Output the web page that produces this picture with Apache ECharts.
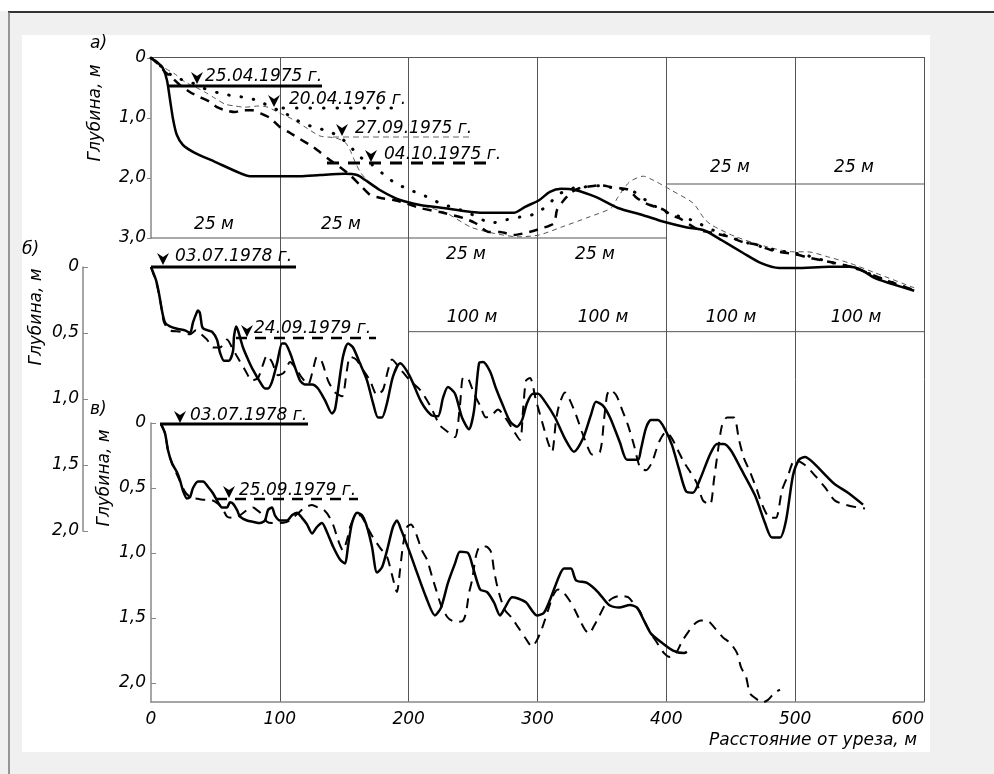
<!DOCTYPE html>
<html><head><meta charset="utf-8">
<script src="https://cdn.jsdelivr.net/npm/echarts@6/dist/echarts.min.js"></script>
<style>html,body{margin:0;padding:0;background:#f0f0f0}#c{width:994px;height:774px}</style>
</head><body><div id="c"></div>
<script>
// ---------- DATA (distance m, depth m) ----------
// Panel а) 0..150 m
const a_25041975 = [[0,0],[1.2,0.07],[2.3,0.17],[3.1,0.37],[3.7,0.70],[4.3,1.03],[5.0,1.28],[6.2,1.45],[8.5,1.58],[12.4,1.73],[17.3,1.92],[19.2,1.97],[23.1,1.97],[28.9,1.97],[32.8,1.95],[37.6,1.93],[40.0,1.95],[41.5,2.03],[44.4,2.20],[47.3,2.33],[49.7,2.40],[52.2,2.45],[56.7,2.50],[64.2,2.58],[70.4,2.58],[72.6,2.48],[75.3,2.37],[77.4,2.23],[79.6,2.18],[82.3,2.20],[86.4,2.32],[90.6,2.50],[95.5,2.62],[99.5,2.73],[103.8,2.82],[107.3,2.87],[110.6,3.03],[114.9,3.25],[118.4,3.42],[121.9,3.50],[125.2,3.50],[131.6,3.48],[135.6,3.48],[137.8,3.53],[140.5,3.67],[143.2,3.75],[148.1,3.88]];
const a_20041976 = [[0,0],[1.7,0.12],[3.7,0.27],[5.6,0.35],[7.6,0.40],[10.1,0.50],[13.0,0.58],[15.9,0.63],[19.2,0.67],[21.7,0.75],[23.5,0.83],[25.6,0.90],[27.9,1.02],[29.8,1.10],[32.4,1.17],[34.7,1.23],[36.7,1.32],[38.6,1.47],[40.6,1.65],[42.9,1.78],[45.0,1.93],[47.3,2.08],[50.3,2.20],[53.2,2.30],[56.1,2.42],[60.0,2.53],[62.9,2.63],[66.0,2.75],[68.7,2.70],[71.6,2.65],[74.5,2.60],[77.0,2.45],[79.0,2.28],[81.3,2.18],[84.0,2.15],[87.1,2.13],[90.0,2.17],[93.7,2.23],[96.8,2.42],[100.3,2.58],[104.8,2.70],[110.4,2.92],[115.3,3.07],[121.1,3.20],[126.7,3.28],[131.6,3.40],[136.6,3.50],[141.5,3.67],[148.1,3.87]];
const a_27091975 = [[0,0],[1.2,0.07],[2.7,0.17],[4.7,0.27],[6.6,0.40],[8.5,0.48],[10.5,0.57],[12.4,0.67],[14.4,0.77],[16.3,0.80],[18.2,0.82],[20.8,0.80],[22.7,0.82],[24.5,0.90],[27.0,1.00],[29.9,1.15],[32.8,1.30],[35.7,1.33],[37.6,1.40],[38.6,1.53],[39.6,1.73],[40.6,1.90],[41.9,2.03],[44.4,2.20],[48.3,2.37],[52.2,2.45],[57.2,2.58],[62.1,2.82],[66.4,2.92],[71.2,2.98],[75.3,2.95],[79.6,2.82],[85.0,2.65],[89.3,2.50],[90.6,2.32],[92.8,2.07],[95.5,1.97],[98.2,2.07],[100.9,2.20],[105.2,2.42],[107.3,2.67],[108.7,2.78],[113.5,2.98],[119.7,3.15],[124.6,3.23],[127.3,3.23],[131.6,3.32],[135.6,3.42],[140.5,3.58],[148.1,3.83]];
const a_04101975 = [[0,0],[1.4,0.10],[2.7,0.23],[4.1,0.33],[5.6,0.45],[7.6,0.57],[9.5,0.65],[11.4,0.73],[12.8,0.82],[14.4,0.87],[16.3,0.90],[17.9,0.87],[19.6,0.87],[21.2,0.92],[23.1,1.00],[25.0,1.15],[27.0,1.25],[28.9,1.35],[31.4,1.48],[32.8,1.57],[34.7,1.70],[36.7,1.82],[38.6,1.95],[40.6,2.12],[42.5,2.28],[44.4,2.33],[47.3,2.37],[49.7,2.43],[52.2,2.50],[56.7,2.58],[60.7,2.67],[62.9,2.75],[65.6,2.90],[67.7,2.90],[70.4,2.95],[73.4,2.90],[76.1,2.83],[78.2,2.75],[78.8,2.53],[80.1,2.37],[81.7,2.23],[83.1,2.17],[84.4,2.15],[87.1,2.12],[89.3,2.15],[91.0,2.17],[92.8,2.20],[94.1,2.32],[95.5,2.40],[96.8,2.45],[99.5,2.53],[100.9,2.62],[102.5,2.67],[104.6,2.78],[106.5,2.87],[109.3,2.92],[112.2,2.98],[114.9,3.07],[117.0,3.10],[120.3,3.20],[121.9,3.23],[125.5,3.28],[127.3,3.32],[130.0,3.37],[132.9,3.42],[136.6,3.50],[140.5,3.63],[143.4,3.73],[148.1,3.87]];
// Panel б) 0..600 m
const b_03071978 = [[0,0],[3.9,0.10],[6.2,0.20],[8.5,0.33],[10.9,0.42],[14.7,0.45],[21.0,0.47],[26.4,0.48],[30.3,0.50],[32.6,0.42],[35.7,0.34],[36.5,0.33],[38.0,0.35],[39.6,0.45],[41.1,0.47],[44.2,0.48],[47.3,0.49],[51.2,0.55],[53.6,0.65],[56.7,0.71],[60.5,0.71],[63.6,0.64],[64.4,0.53],[66.0,0.45],[67.5,0.48],[71.4,0.61],[75.3,0.70],[79.2,0.78],[84.6,0.87],[88.5,0.92],[90.8,0.92],[93.9,0.87],[97.8,0.73],[101.7,0.58],[104.0,0.58],[107.9,0.65],[111.8,0.76],[115.7,0.86],[119.5,0.89],[125.0,0.89],[129.6,0.92],[135.1,1.01],[140.5,1.11],[142.8,1.08],[145.2,0.93],[149.0,0.68],[152.9,0.58],[156.8,0.61],[162.2,0.73],[167.7,0.86],[172.3,1.03],[176.2,1.14],[179.3,1.14],[183.2,1.03],[187.8,0.83],[193.3,0.73],[201.0,0.83],[209.6,1.02],[217.3,1.12],[222.8,1.13],[226.7,0.99],[230.5,0.91],[236.0,0.96],[241.4,1.14],[246.8,1.23],[250.7,1.09],[254.6,0.73],[257.7,0.72],[263.1,0.79],[267.8,0.92],[273.2,1.05],[278.7,1.17],[284.1,1.21],[288.0,1.16],[291.9,1.03],[296.5,0.96],[300.4,0.96],[305.8,1.02],[313.6,1.14],[321.3,1.30],[328.3,1.40],[335.3,1.30],[341.5,1.12],[345.4,1.02],[350.8,1.05],[356.3,1.14],[364.0,1.33],[369.5,1.46],[378.0,1.46],[380.3,1.38],[384.2,1.22],[388.1,1.16],[393.5,1.16],[399.0,1.23],[404.4,1.35],[409.8,1.53],[415.3,1.70],[420.7,1.71],[426.1,1.61],[433.9,1.42],[439.3,1.34],[444.8,1.34],[450.2,1.39],[458.0,1.53],[468.8,1.73],[476.6,1.94],[482.0,2.05],[488.2,2.05],[492.9,1.92],[498.3,1.58],[503.0,1.46],[507.6,1.44],[513.8,1.48],[530.1,1.64],[541.0,1.71],[552.7,1.80]];
const b_24091979 = [[0,0],[4.7,0.14],[7.8,0.29],[10.1,0.42],[14.7,0.48],[22.5,0.49],[30.3,0.51],[34.9,0.48],[38.0,0.50],[43.5,0.55],[48.1,0.61],[53.6,0.61],[59.0,0.55],[62.9,0.61],[67.5,0.69],[73.0,0.78],[78.4,0.86],[83.1,0.84],[86.9,0.74],[90.0,0.67],[93.9,0.72],[98.6,0.82],[103.2,0.80],[107.9,0.72],[112.5,0.77],[117.2,0.84],[121.9,0.89],[125.7,0.78],[128.8,0.68],[132.7,0.72],[137.4,0.86],[142.8,0.95],[148.3,0.98],[152.1,0.78],[154.5,0.68],[159.1,0.70],[164.6,0.78],[170.0,0.86],[175.4,0.97],[180.1,0.93],[184.0,0.78],[187.1,0.70],[193.3,0.77],[201.0,0.86],[208.8,0.93],[216.6,1.05],[224.3,1.20],[230.5,1.25],[236.0,1.29],[239.8,1.05],[242.2,0.84],[245.3,0.84],[250.7,0.96],[255.4,1.05],[260.0,1.14],[264.7,1.12],[269.3,1.08],[274.8,1.14],[280.2,1.22],[286.4,1.31],[288.8,1.08],[291.1,0.86],[294.2,0.84],[298.8,1.01],[303.5,1.17],[308.2,1.33],[311.3,1.40],[314.4,1.16],[316.7,1.05],[321.3,0.95],[325.2,1.01],[329.9,1.12],[334.5,1.25],[339.2,1.37],[342.3,1.42],[348.5,1.40],[351.6,1.16],[354.0,0.97],[356.3,0.93],[361.0,0.97],[365.6,1.08],[370.3,1.20],[374.9,1.35],[379.6,1.52],[384.2,1.54],[388.9,1.48],[392.0,1.39],[395.1,1.31],[399.7,1.25],[404.4,1.30],[409.1,1.39],[413.7,1.48],[418.4,1.55],[423.8,1.64],[428.5,1.77],[433.9,1.80],[437.0,1.61],[440.1,1.39],[443.2,1.20],[447.1,1.14],[452.5,1.14],[456.4,1.31],[460.3,1.45],[464.9,1.55],[470.4,1.69],[474.3,1.80],[480.5,1.90],[485.1,1.90],[489.8,1.69],[494.4,1.58],[499.9,1.46],[507.6,1.50],[515.4,1.58],[523.2,1.67],[530.9,1.77],[542.6,1.81],[554.2,1.83]];
// Panel в) 0..600 m
const c_03071978 = [[7.8,0.01],[10.9,0.08],[13.2,0.21],[16.3,0.31],[20.2,0.38],[22.5,0.44],[24.8,0.52],[27.9,0.58],[30.3,0.57],[32.6,0.50],[36.5,0.45],[40.4,0.45],[44.2,0.49],[48.1,0.54],[52.0,0.61],[55.1,0.65],[59.0,0.65],[61.3,0.61],[63.6,0.62],[66.8,0.67],[69.1,0.72],[74.5,0.75],[79.2,0.76],[84.6,0.77],[88.5,0.75],[90.8,0.67],[93.9,0.65],[96.2,0.71],[100.1,0.75],[105.6,0.75],[109.4,0.71],[113.3,0.69],[117.2,0.73],[121.1,0.78],[125.0,0.85],[128.8,0.80],[132.7,0.77],[136.6,0.84],[141.3,0.95],[146.7,1.05],[150.6,1.08],[152.9,0.95],[156.0,0.77],[159.9,0.69],[163.8,0.71],[167.7,0.80],[171.5,0.95],[175.4,1.15],[179.3,1.11],[183.2,0.98],[187.8,0.80],[190.9,0.75],[194.1,0.82],[200.3,0.98],[205.7,1.13],[213.5,1.34],[220.4,1.48],[225.1,1.42],[230.5,1.23],[236.0,1.08],[239.8,0.99],[246.1,1.00],[249.9,1.11],[255.4,1.28],[260.8,1.30],[266.2,1.38],[270.9,1.48],[274.8,1.42],[280.2,1.34],[284.9,1.35],[291.1,1.38],[299.6,1.48],[305.0,1.46],[310.5,1.34],[316.7,1.18],[320.6,1.12],[326.0,1.12],[329.9,1.21],[338.4,1.23],[346.9,1.30],[355.5,1.40],[363.3,1.42],[371.8,1.40],[377.2,1.42],[382.7,1.52],[388.1,1.62],[396.6,1.69],[405.2,1.75],[413.7,1.77],[416.0,1.76]];
const c_25091979 = [[7.8,0.01],[10.9,0.08],[13.2,0.21],[16.3,0.31],[19.4,0.38],[22.5,0.45],[26.4,0.53],[30.3,0.57],[34.9,0.58],[40.4,0.59],[45.8,0.59],[50.5,0.61],[55.1,0.65],[59.0,0.72],[63.6,0.73],[69.1,0.71],[74.5,0.67],[79.2,0.65],[82.3,0.67],[86.9,0.71],[90.0,0.76],[93.9,0.77],[100.1,0.77],[105.6,0.76],[110.2,0.73],[115.7,0.68],[119.5,0.65],[125.0,0.63],[129.6,0.65],[134.3,0.67],[138.9,0.73],[142.0,0.80],[145.2,0.90],[149.0,0.98],[152.1,0.90],[154.5,0.80],[158.3,0.72],[162.2,0.71],[165.3,0.75],[168.4,0.81],[172.3,0.88],[177.8,0.96],[183.2,1.03],[187.1,1.17],[190.9,1.30],[193.3,1.13],[195.6,0.94],[198.7,0.80],[201.8,0.78],[205.7,0.85],[210.3,0.98],[214.2,1.05],[218.1,1.18],[221.2,1.28],[225.1,1.40],[229.8,1.49],[233.6,1.52],[238.3,1.53],[242.2,1.52],[244.5,1.46],[246.8,1.31],[249.2,1.21],[252.3,1.02],[255.4,0.95],[260.0,0.95],[263.9,0.99],[266.2,1.13],[268.6,1.25],[271.7,1.36],[274.8,1.44],[280.2,1.50],[284.9,1.57],[290.3,1.65],[295.7,1.72],[299.6,1.67],[303.5,1.58],[308.2,1.44],[312.0,1.33],[315.9,1.28],[319.8,1.30],[324.5,1.36],[329.1,1.44],[333.0,1.52],[336.9,1.59],[340.0,1.62],[343.9,1.56],[347.7,1.49],[352.4,1.40],[357.8,1.35],[364.0,1.33],[370.3,1.34],[375.7,1.40],[379.6,1.45],[382.7,1.52],[388.1,1.62],[392.8,1.69],[398.2,1.77],[402.9,1.80],[407.5,1.77],[412.2,1.68],[416.8,1.61],[421.5,1.55],[426.9,1.52],[431.6,1.52],[437.0,1.57],[444.0,1.65],[449.4,1.69],[454.9,1.77],[458.0,1.88],[461.8,1.95],[464.9,2.08],[469.6,2.12],[474.3,2.15],[478.9,2.13],[483.6,2.08],[488.2,2.05]];
// Tick labels / axis texts
const xTicksBottom = [0,100,200,300,400,500,600];
const depthTicksA = [0,1,2,3];
const depthTicksBC = [0,0.5,1,1.5,2];
const scaleLabels25 = ['25 м','25 м','25 м','25 м','25 м','25 м'];
const scaleLabels100 = ['100 м','100 м','100 м','100 м'];
// frame segments (grid partitions) in panel units
const frameA = [[[0,3],[100,3]], [[100,2.1],[150,2.1]]];
const frameB = [[[200,0.49],[600,0.49]]];

// ---------- STYLE ----------
const FONT = '"DejaVu Sans", sans-serif';
const font17 = 'italic 17px ' + FONT;
const fmt = v => {
  if (Math.abs(v*2 - Math.round(v*2)) > 1e-6) return '';
  return v === 0 ? '0' : v.toFixed(1).replace('.', ',');
};
const lineBase = {type:'line', symbol:'none', showSymbol:false, clip:false, silent:true, smooth:0.25, animation:false};
function frameSeries(segs, xi, yi){
  return segs.map(s => ({type:'line', symbol:'none', clip:false, silent:true, animation:false, xAxisIndex:xi, yAxisIndex:yi, data:s, lineStyle:{color:'#555', width:1}, z:1}));
}
function arrow(x, y){ // tip at (x,y)
  return {type:'polygon', shape:{points:[[x-6,y-12],[x,y-8],[x+6,y-12],[x,y]]}, style:{fill:'#000'}, z:50};
}
function txt(x, y, t, extra){
  return {type:'text', x:x, y:y, style:Object.assign({text:t, font:font17, fill:'#000', align:'left', verticalAlign:'middle'}, extra||{}), z:50};
}
function seg(x1, y1, x2, y2, st){
  return {type:'line', shape:{x1:x1,y1:y1,x2:x2,y2:y2}, style:Object.assign({stroke:'#000', lineWidth:3}, st), z:50};
}
const hiddenX = (grid, max) => ({gridIndex:grid, type:'value', min:0, max:max, show:false});

const graphics = [
  {type:'rect', shape:{x:0,y:0,width:994,height:11}, style:{fill:'#fff'}, z:-100},
  {type:'line', shape:{x1:8,y1:12,x2:994,y2:12}, style:{stroke:'#333', lineWidth:2}, z:-90},
  {type:'line', shape:{x1:9,y1:12,x2:9,y2:774}, style:{stroke:'#777', lineWidth:1.5}, z:-90},
  {type:'rect', shape:{x:22,y:35,width:908,height:717}, style:{fill:'#fff'}, z:-100},
  // panel letters
  txt(90, 44, 'а)'), txt(22, 250, 'б)'), txt(90, 410, 'в)'),
  // axis names
  {type:'text', x:96, y:113, rotation:Math.PI/2, style:{text:'Глубина, м', font:font17, fill:'#000', align:'center', verticalAlign:'middle'}, z:50},
  {type:'text', x:37, y:317, rotation:Math.PI/2, style:{text:'Глубина, м', font:font17, fill:'#000', align:'center', verticalAlign:'middle'}, z:50},
  {type:'text', x:105, y:478, rotation:Math.PI/2, style:{text:'Глубина, м', font:font17, fill:'#000', align:'center', verticalAlign:'middle'}, z:50},
  txt(917, 741, 'Расстояние от уреза, м', {align:'right'}),
  // panel а) level annotations
  seg(167, 86, 322, 86, {}), arrow(197, 84), txt(205, 77, '25.04.1975 г.'),
  seg(283, 108, 402, 108, {lineDash:[0.5, 13], lineCap:'round', lineWidth:3}), arrow(274, 107), txt(289, 100, '20.04.1976 г.'),
  seg(333, 137, 472, 137, {stroke:'#666', lineWidth:1, lineDash:[6,4]}), arrow(342, 136), txt(355, 129, '27.09.1975 г.'),
  seg(327, 163, 494, 163, {lineDash:[12,9]}), arrow(371, 162), txt(384, 155, '04.10.1975 г.'),
  // panel б)
  seg(151, 267, 296, 267, {}), arrow(163, 265), txt(175, 257, '03.07.1978 г.'),
  seg(236, 338, 376, 338, {lineWidth:2.5, lineDash:[11,8]}), arrow(247, 337), txt(254, 329, '24.09.1979 г.'),
  // panel в)
  seg(160, 424, 308, 424, {}), arrow(180, 423), txt(190, 416, '03.07.1978 г.'),
  seg(216, 499, 358, 499, {lineWidth:2.5, lineDash:[11,8]}), arrow(229, 498), txt(239, 491, '25.09.1979 г.'),
];
// scale labels "25 м" and "100 м"
[[214,225],[341,225],[466,255],[595,255],[730,168],[854,168]].forEach((p,i)=>graphics.push(txt(p[0],p[1],scaleLabels25[i],{align:'center'})));
[[472,318],[603,318],[731,318],[856,318]].forEach((p,i)=>graphics.push(txt(p[0],p[1],scaleLabels100[i],{align:'center'})));

const yLabel = {color:'#000', fontStyle:'italic', fontSize:17, fontFamily:FONT};
const option = {
  backgroundColor:'#f0f0f0',
  animation:false,
  textStyle:{fontFamily:FONT},
  graphic:{elements:graphics},
  grid:[
    {left:151, top:57, width:773, height:645},   // frame
    {left:151, top:58, width:773, height:180},   // а)
    {left:151, top:267, width:773, height:264},  // б)
    {left:151, top:423, width:773, height:279},  // в)
  ],
  xAxis:[
    {gridIndex:0, type:'value', min:0, max:600, interval:100, position:'bottom',
      axisLine:{show:true, onZero:false, lineStyle:{color:'#888', width:1.5}}, axisTick:{show:false},
      axisLabel:{show:true, color:'#000', fontStyle:'italic', fontSize:17, fontFamily:FONT, margin:9, alignMaxLabel:'right',
        customValues:xTicksBottom},
      splitLine:{show:true, showMinLine:false, showMaxLine:true, lineStyle:{color:'#555', width:1}}},
    {gridIndex:0, type:'value', min:0, max:600, position:'top',
      axisLine:{show:true, onZero:false, lineStyle:{color:'#555', width:1}}, axisTick:{show:false}, axisLabel:{show:false}, splitLine:{show:false}},
    hiddenX(1,150), hiddenX(2,600), hiddenX(3,600)
  ],
  yAxis:[
    {gridIndex:0, type:'value', min:0, max:1, show:false},
    {gridIndex:1, type:'value', min:0, max:3, interval:1, inverse:true, position:'left',
      axisLine:{show:true, onZero:false, lineStyle:{color:'#888', width:1.5}},
      axisTick:{show:true, inside:false, length:4, lineStyle:{color:'#888'}},
      axisLabel:Object.assign({margin:5, formatter:fmt, customValues:depthTicksA}, yLabel),
      splitLine:{show:false}},
    {gridIndex:2, type:'value', min:0, max:2, interval:0.5, inverse:true, position:'left', offset:68,
      axisLine:{show:true, onZero:false, lineStyle:{color:'#888', width:1.5}},
      axisTick:{show:true, inside:true, length:5, lineStyle:{color:'#888'}},
      axisLabel:Object.assign({margin:4, formatter:fmt, customValues:depthTicksBC}, yLabel),
      splitLine:{show:false}},
    {gridIndex:3, type:'value', min:0, max:2.146, interval:0.5, inverse:true, position:'left',
      axisLine:{show:true, onZero:false, lineStyle:{color:'#888', width:1.5}},
      axisTick:{show:true, inside:true, length:5, lineStyle:{color:'#888'}, customValues:depthTicksBC},
      axisLabel:Object.assign({margin:5, formatter:fmt, customValues:depthTicksBC}, yLabel),
      splitLine:{show:false}}
  ],
  series:[
    ...frameSeries(frameA, 2, 1),
    ...frameSeries(frameB, 3, 2),
    Object.assign({}, lineBase, {name:'27.09.1975', xAxisIndex:2, yAxisIndex:1, data:a_27091975, lineStyle:{color:'#555', width:1, type:[5,4]}, z:3}),
    Object.assign({}, lineBase, {name:'20.04.1976', xAxisIndex:2, yAxisIndex:1, data:a_20041976, lineStyle:{color:'#000', width:3, type:[0.5,12], cap:'round'}, z:4}),
    Object.assign({}, lineBase, {name:'04.10.1975', xAxisIndex:2, yAxisIndex:1, data:a_04101975, lineStyle:{color:'#000', width:2.5, type:[9,7]}, z:5}),
    Object.assign({}, lineBase, {name:'25.04.1975', xAxisIndex:2, yAxisIndex:1, data:a_25041975, lineStyle:{color:'#000', width:2.5}, z:6}),
    Object.assign({}, lineBase, {name:'б 24.09.1979', xAxisIndex:3, yAxisIndex:2, data:b_24091979, lineStyle:{color:'#000', width:2, type:[10,7]}, z:4}),
    Object.assign({}, lineBase, {name:'б 03.07.1978', xAxisIndex:3, yAxisIndex:2, data:b_03071978, lineStyle:{color:'#000', width:2.5}, z:6}),
    Object.assign({}, lineBase, {name:'в 25.09.1979', xAxisIndex:4, yAxisIndex:3, data:c_25091979, lineStyle:{color:'#000', width:2, type:[10,7]}, z:4}),
    Object.assign({}, lineBase, {name:'в 03.07.1978', xAxisIndex:4, yAxisIndex:3, data:c_03071978, lineStyle:{color:'#000', width:2.5}, z:6}),
  ]
};
const chart = echarts.init(document.getElementById('c'), null, {renderer:'canvas'});
chart.setOption(option);
</script>
</body></html>
